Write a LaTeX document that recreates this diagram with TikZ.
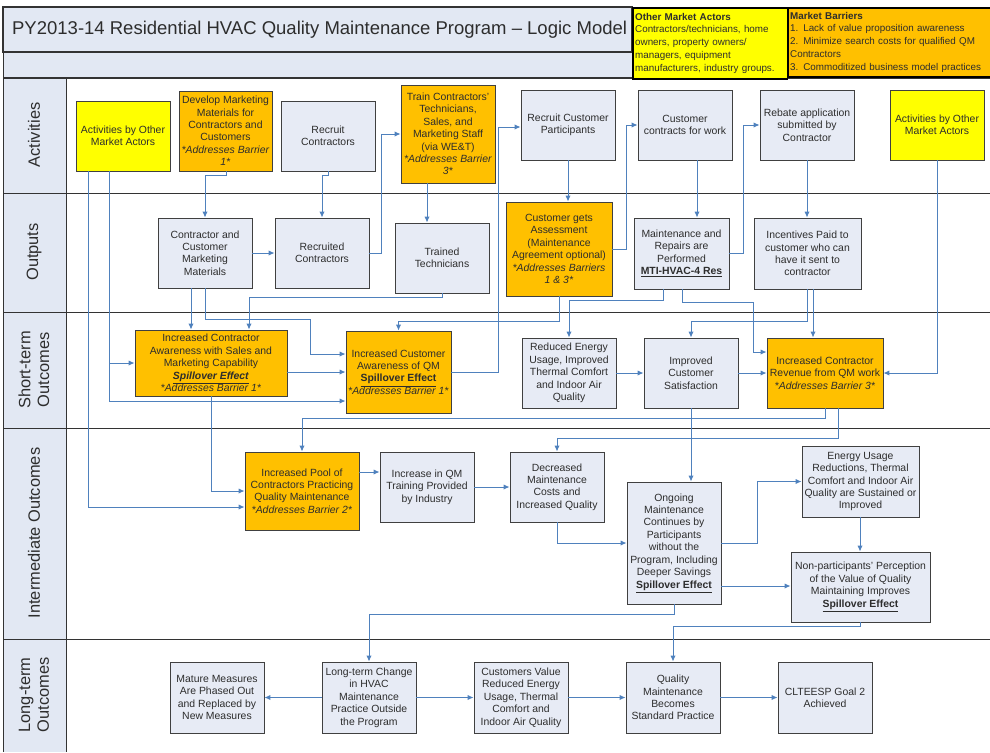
\documentclass[tikz,border=0pt]{standalone}
\usepackage{fontspec}
\setmainfont{Liberation Sans}
\usepackage{tikz}
\usetikzlibrary{arrows.meta}
\usepackage{xcolor}
\definecolor{boxfill}{RGB}{231,235,245}
\definecolor{panel}{RGB}{226,232,243}
\definecolor{qmorange}{RGB}{255,192,0}
\definecolor{actoryellow}{RGB}{255,255,0}
\definecolor{linkblue}{RGB}{79,129,189}
\definecolor{textgray}{RGB}{45,45,45}

\begin{document}
\begin{tikzpicture}[
    x=0.03cm, y=-0.03cm,
    every node/.style={font=\fontsize{8.9}{10.6}\selectfont, text=textgray},
    box/.style={draw=black!75, line width=0.8pt, fill=boxfill, align=center, inner sep=1pt,
                minimum width=94*0.03cm, minimum height=70*0.03cm},
    barrier/.style={box, fill=qmorange},
    actor/.style={box, fill=actoryellow},
    key/.style={draw=black, line width=1.4pt, anchor=north west, align=left, inner sep=2pt,
                font=\fontsize{8.4}{11}\selectfont},
    lanelabel/.style={rotate=90, align=center, font=\fontsize{14}{16}\selectfont},
    frame/.style={draw=black!80, line width=0.8pt},
    line/.style={draw=linkblue, line width=0.8pt, -{Latex[length=5pt,width=4.5pt]}}
]
\useasboundingbox (0,0) rectangle (990,752);

% header and lanes
\fill[panel] (3,7) rectangle (632,77);
\fill[panel] (3,78) rectangle (66,752);
\draw[frame, line width=1.2pt] (3,7) rectangle (632,52);
\draw[frame] (3,52) rectangle (632,77);
\foreach \y in {78,193,312,428,639}
    \draw[frame] (3,\y) -- (990,\y);
\draw[frame] (3,52) -- (3,752);
\draw[frame] (66,78) -- (66,752);

\node[anchor=west, font=\fontsize{15.8}{18}\selectfont] (title) at (8,30)
    {PY2013-14 Residential HVAC Quality Maintenance Program -- Logic Model};
\node[key, fill=actoryellow, text width=150*0.03cm, minimum height=71*0.03cm] (actors) at (632,7)
    {\textbf{Other Market Actors}\\Contractors/technicians, home\\owners, property owners/\\managers, equipment\\manufacturers, industry groups.};
\node[key, fill=qmorange, text width=205*0.03cm, minimum height=69*0.03cm] (barriers) at (787,7)
    {\textbf{Market Barriers}\\1. Lack of value proposition awareness\\2. Minimize search costs for qualified QM\\Contractors\\3. Commoditized business model practices};

\node[lanelabel] (lact) at (34,135) {Activities};
\node[lanelabel] (lout) at (34,252) {Outputs};
\node[lanelabel] (lshort) at (34,370) {Short-term\\Outcomes};
\node[lanelabel] (linter) at (34,533) {Intermediate Outcomes};
\node[lanelabel] (llong) at (34,695) {Long-term\\Outcomes};

% activities
\node[actor] (a1) at (123,136) {Activities by Other\\Market Actors};
\node[barrier, minimum width=93*0.03cm, minimum height=80*0.03cm] (a2) at (225.5,131)
    {Develop Marketing\\Materials for\\Contractors and\\Customers\\\textit{*Addresses Barrier}\\\textit{1*}};
\node[box] (a3) at (328,136) {Recruit\\Contractors};
\node[barrier, minimum height=98*0.03cm] (a4) at (448,134)
    {Train Contractors'\\Technicians,\\Sales, and\\Marketing Staff\\(via WE\&T)\\\textit{*Addresses Barrier}\\\textit{3*}};
\node[box] (a5) at (568,125) {Recruit Customer\\Participants};
\node[box] (a6) at (685,125) {Customer\\contracts for work};
\node[box] (a7) at (807,125) {Rebate application\\submitted by\\Contractor};
\node[actor] (a8) at (937,125) {Activities by Other\\Market Actors};

% outputs
\node[box] (o1) at (205,253) {Contractor and\\Customer\\Marketing\\Materials};
\node[box] (o2) at (322,253) {Recruited\\Contractors};
\node[box] (o3) at (442,258) {Trained\\Technicians};
\node[barrier, minimum width=106*0.03cm, minimum height=94*0.03cm] (o4) at (559,249)
    {Customer gets\\Assessment\\(Maintenance\\Agreement optional)\\\textit{*Addresses Barriers}\\\textit{1 \& 3*}};
\node[box, minimum width=95*0.03cm, minimum height=71*0.03cm] (o5) at (681.5,253.5)
    {Maintenance and\\Repairs are\\Performed\\\underline{\textbf{MTI-HVAC-4 Res}}};
\node[box, minimum width=107*0.03cm, minimum height=71*0.03cm] (o6) at (807.5,253.5)
    {Incentives Paid to\\customer who can\\have it sent to\\contractor};

% short-term outcomes
\node[barrier, minimum width=152*0.03cm, minimum height=66*0.03cm] (s1) at (211,363)
    {Increased Contractor\\Awareness with Sales and\\Marketing Capability\\\underline{\textbf{\textit{Spillover Effect}}}\\\textit{*Addresses Barrier 1*}};
\node[barrier, minimum width=105*0.03cm, minimum height=82*0.03cm] (s2) at (398.5,372)
    {Increased Customer\\Awareness of QM\\\underline{\textbf{Spillover Effect}}\\\textit{*Addresses Barrier 1*}};
\node[box] (s3) at (569,373) {Reduced Energy\\Usage, Improved\\Thermal Comfort\\and Indoor Air\\Quality};
\node[box] (s4) at (691,373) {Improved\\Customer\\Satisfaction};
\node[barrier, minimum width=116*0.03cm] (s5) at (825,373)
    {Increased Contractor\\Revenue from QM work\\\textit{*Addresses Barrier 3*}};

% intermediate outcomes
\node[barrier, minimum width=114*0.03cm, minimum height=78*0.03cm] (i1) at (302,491)
    {Increased Pool of\\Contractors Practicing\\Quality Maintenance\\\textit{*Addresses Barrier 2*}};
\node[box] (i2) at (427,487) {Increase in QM\\Training Provided\\by Industry};
\node[box] (i3) at (557,487) {Decreased\\Maintenance\\Costs and\\Increased Quality};
\node[box, minimum height=122*0.03cm] (i4) at (674,543)
    {Ongoing\\Maintenance\\Continues by\\Participants\\without the\\Program, Including\\Deeper Savings\\\underline{\textbf{Spillover Effect}}};
\node[box, minimum width=117*0.03cm, minimum height=71*0.03cm] (i5) at (860.5,481.5)
    {Energy Usage\\Reductions, Thermal\\Comfort and Indoor Air\\Quality are Sustained or\\Improved};
\node[box, minimum width=139*0.03cm] (i6) at (860.5,587)
    {Non-participants' Perception\\of the Value of Quality\\Maintaining Improves\\\underline{\textbf{Spillover Effect}}};

% long-term outcomes
\node[box, minimum height=71*0.03cm] (l1) at (217,697.5) {Mature Measures\\Are Phased Out\\and Replaced by\\New Measures};
\node[box, minimum height=71*0.03cm] (l2) at (369,697.5) {Long-term Change\\in HVAC\\Maintenance\\Practice Outside\\the Program};
\node[box, minimum height=71*0.03cm] (l3) at (521,697.5) {Customers Value\\Reduced Energy\\Usage, Thermal\\Comfort and\\Indoor Air Quality};
\node[box, minimum height=71*0.03cm] (l4) at (673,697.5) {Quality\\Maintenance\\Becomes\\Standard Practice};
\node[box, minimum height=71*0.03cm] (l5) at (825,697.5) {CLTEESP Goal 2\\Achieved};

% connectors
\draw[line] (a1.south -| 88,0) |- (i1.west |- 0,507);
\draw[line] (a1.south -| 109,0) |- (s1.west);
\draw[line] (a1.south -| 109,0) |- (s2.west |- 0,401);
\draw[line] (a2.south -| 226,0) -- (226,175) -| (o1.north);
\draw[line] (a3.south) -- (328,175) -| (o2.north);
\draw[line] (o2.east) -- (381,253) |- (a4.west);
\draw[line] (a4.south -| 427,0) -- (o3.north -| 427,0);
\draw[line] (o1) -- (o2);
\draw[line] (o1.south -| 191,0) -- (s1.north -| 191,0);
\draw[line] (o1.south) -- (205,319) -- (310,319) |- (s2.west |- 0,354);
\draw[line] (o3.south) -- (442,297) -| (s1.north -| 249,0);
\draw[line] (s1.east |- 0,372) -- (s2.west |- 0,372);
\draw[line] (s2.east) -- (498,372) |- (a5.west |- 0,127);
\draw[line] (a5.south -| 568,0) -- (o4.north -| 568,0);
\draw[line] (o4.south) -- (559,321) -| (s2.north);
\draw[line] (o4.east) -- (626,249) |- (a6.west);
\draw[line] (a6.south -| 697,0) -- (o5.north -| 697,0);
\draw[line] (o5.east) -- (743,253.5) |- (a7.west);
\draw[line] (a7.south) -- (a7.south |- o6.north);
\draw[line] (a8.south) |- (s5.east);
\draw[line] (o5.south -| 663,0) -- (663,300) -| (s3.north);
\draw[line] (o5.south -| 682,0) -- (682,302) -- (753,302) |- (s5.west |- 0,352);
\draw[line] (o6.south -| 807,0) -- (807,321) -| (s4.north);
\draw[line] (o6.south -| 813,0) -- (s5.north -| 813,0);
\draw[line] (s3) -- (s4);
\draw[line] (s4) -- (s5);
\draw[line] (s1.south) |- (i1.west);
\draw[line] (s5.south) -- (825,418) -| (i1.north);
\draw[line] (s5.south -| 838,0) -- (838,438) -| (i3.north);
\draw[line] (s4.south) -- (s4.south |- i4.north);
\draw[line] (i1.east |- 0,472) -- (i2.west |- 0,472);
\draw[line] (i2) -- (i3);
\draw[line] (i3.south) |- (i4.west);
\draw[line] (i4.east) -- (757,543) |- (i5.west);
\draw[line] (i4.east |- 0,586) -- (i6.west |- 0,586);
\draw[line] (i5.south -| 860,0) -- (i6.north -| 860,0);
\draw[line] (i4.south) -- (674,614) -| (l2.north);
\draw[line] (i6.south -| 860,0) -- (860,626) -| (l4.north);
\draw[line] (l2) -- (l1);
\draw[line] (l2) -- (l3);
\draw[line] (l3) -- (l4);
\draw[line] (l4) -- (l5);
\end{tikzpicture}
\end{document}
